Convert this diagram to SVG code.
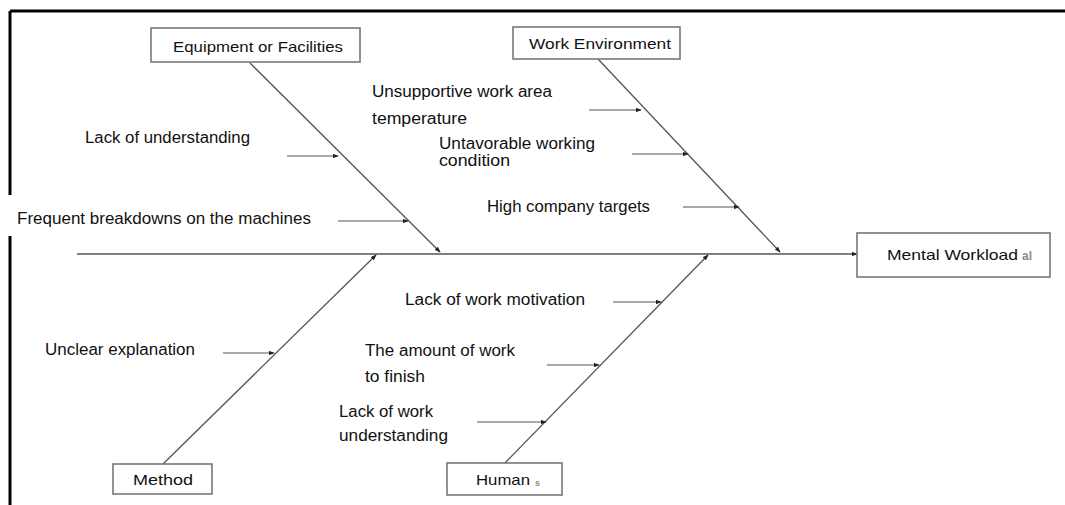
<svg xmlns="http://www.w3.org/2000/svg" width="1065" height="505" viewBox="0 0 1065 505">
<style>
.frame{stroke:#000;stroke-width:3;fill:none}
.box{fill:#fff;stroke:#777;stroke-width:1.6}
.bone{stroke:#555;stroke-width:1.3;fill:none}
.sub{stroke:#555;stroke-width:1.2;fill:none}
.t{font-family:"Liberation Sans",Arial,sans-serif;font-size:16px;fill:#111}
.bt{font-family:"Liberation Sans",Arial,sans-serif;font-size:15px;fill:#111}
.ghost{font-family:"Liberation Sans",Arial,sans-serif;font-weight:bold;fill:#8a8a8a}
</style>
<defs>
<marker id="ah" viewBox="0 0 8 6" refX="7" refY="3" markerWidth="6" markerHeight="4.5" markerUnits="userSpaceOnUse" orient="auto">
<path d="M0,0 L8,3 L0,6 Z" fill="#222"/>
</marker>
</defs>
<rect width="1065" height="505" fill="#fff"/>
<g id="frame">
<path class="frame" d="M10,11 H1065 M10,11 V195 M10,236 V505"/>
</g>
<g id="connectors">
<path class="bone" d="M77,254 H857" marker-end="url(#ah)"/>
<path class="bone" d="M250,63 L440,252" marker-end="url(#ah)"/>
<path class="bone" d="M598,59 L780,252" marker-end="url(#ah)"/>
<path class="bone" d="M163,464 L376,255" marker-end="url(#ah)"/>
<path class="bone" d="M505,463 L708,255" marker-end="url(#ah)"/>
<path class="sub" d="M287,156 H338" marker-end="url(#ah)"/>
<path class="sub" d="M338,221 H408" marker-end="url(#ah)"/>
<path class="sub" d="M589,110 H641" marker-end="url(#ah)"/>
<path class="sub" d="M632,154 H688" marker-end="url(#ah)"/>
<path class="sub" d="M683,207 H739" marker-end="url(#ah)"/>
<path class="sub" d="M223,353 H274" marker-end="url(#ah)"/>
<path class="sub" d="M613,302 H661" marker-end="url(#ah)"/>
<path class="sub" d="M547,365 H599" marker-end="url(#ah)"/>
<path class="sub" d="M477,422 H546" marker-end="url(#ah)"/>
</g>
<g id="equipment">
<rect class="box" x="151" y="28" width="209" height="34"/>
<text class="bt" x="173" y="52" textLength="170" lengthAdjust="spacingAndGlyphs">Equipment or Facilities</text>
</g>
<g id="work-environment">
<rect class="box" x="513" y="27" width="167" height="32"/>
<text class="bt" x="529" y="49" textLength="142" lengthAdjust="spacingAndGlyphs">Work Environment</text>
</g>
<g id="mental-workload">
<rect class="box" x="857" y="233" width="193" height="44"/>
<text class="bt" x="887" y="260" textLength="131" lengthAdjust="spacingAndGlyphs">Mental Workload</text>
<text class="ghost" x="1022" y="260" font-size="12">al</text>
</g>
<g id="method">
<rect class="box" x="113" y="464" width="99" height="30"/>
<text class="bt" x="133" y="485" textLength="60" lengthAdjust="spacingAndGlyphs">Method</text>
</g>
<g id="human">
<rect class="box" x="447" y="463" width="115" height="32"/>
<text class="bt" x="476" y="485" textLength="54" lengthAdjust="spacingAndGlyphs">Human</text>
<text class="ghost" x="535" y="486" font-size="9">s</text>
</g>
<g id="cause-lack-understanding">
<text class="t" x="85" y="143" textLength="165" lengthAdjust="spacingAndGlyphs">Lack of understanding</text>
</g>
<g id="cause-breakdowns">
<text class="t" x="17" y="224" textLength="294" lengthAdjust="spacingAndGlyphs">Frequent breakdowns on the machines</text>
</g>
<g id="cause-temperature">
<text class="t" x="372" y="97" textLength="180" lengthAdjust="spacingAndGlyphs">Unsupportive work area</text>
<text class="t" x="372" y="124" textLength="95" lengthAdjust="spacingAndGlyphs">temperature</text>
</g>
<g id="cause-working-condition">
<text class="t" x="439" y="149" font-size="14" textLength="156" lengthAdjust="spacingAndGlyphs">Untavorable working</text>
<text class="t" x="439" y="166" font-size="14" textLength="71" lengthAdjust="spacingAndGlyphs">condition</text>
</g>
<g id="cause-targets">
<text class="t" x="487" y="212" textLength="163" lengthAdjust="spacingAndGlyphs">High company targets</text>
</g>
<g id="cause-unclear">
<text class="t" x="45" y="355" textLength="150" lengthAdjust="spacingAndGlyphs">Unclear explanation</text>
</g>
<g id="cause-motivation">
<text class="t" x="405" y="305" textLength="180" lengthAdjust="spacingAndGlyphs">Lack of work motivation</text>
</g>
<g id="cause-amount">
<text class="t" x="365" y="356" textLength="150" lengthAdjust="spacingAndGlyphs">The amount of work</text>
<text class="t" x="365" y="382" textLength="60" lengthAdjust="spacingAndGlyphs">to finish</text>
</g>
<g id="cause-work-understanding">
<text class="t" x="339" y="417" textLength="94" lengthAdjust="spacingAndGlyphs">Lack of work</text>
<text class="t" x="339" y="441" textLength="109" lengthAdjust="spacingAndGlyphs">understanding</text>
</g>
</svg>
